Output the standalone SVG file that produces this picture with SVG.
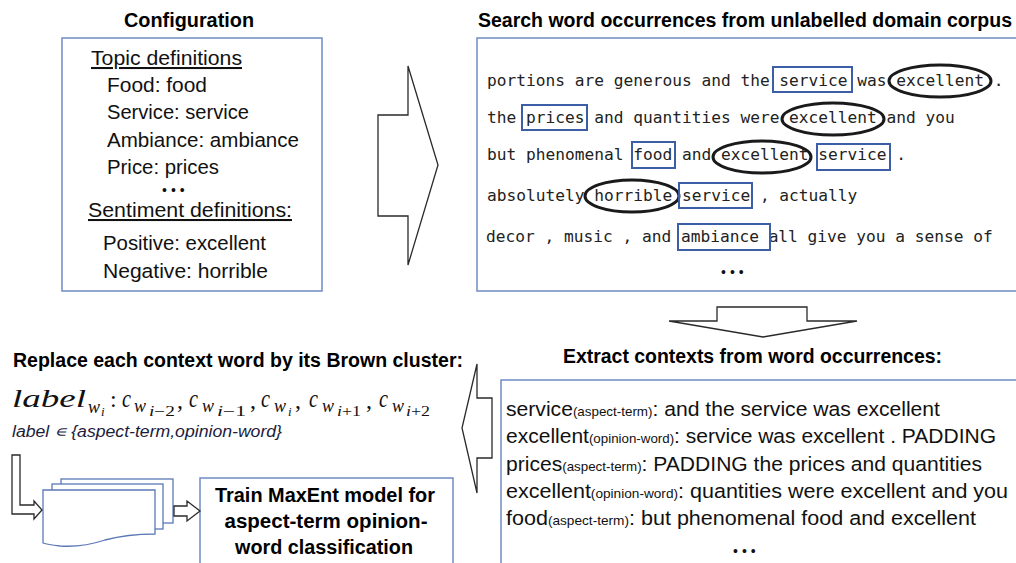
<svg xmlns="http://www.w3.org/2000/svg" width="1016" height="563" viewBox="0 0 1016 563">
<style>
.h{font-family:"Liberation Sans",Arial,sans-serif;font-weight:bold;font-size:19.5px;fill:#000}
.b{font-family:"Liberation Sans",Arial,sans-serif;font-size:20.5px;fill:#111}
.s{font-size:13px}
.m{font-family:"DejaVu Sans Mono",monospace;font-size:16.2px;fill:#222}
.dots{font-family:"Liberation Sans",Arial,sans-serif;font-size:14px;letter-spacing:4px;fill:#111}
.box{fill:#fff;stroke:#6f8bc2;stroke-width:1.5}
.wb{fill:none;stroke:#3c5ea6;stroke-width:2}
.el{fill:none;stroke:#1a1a1a;stroke-width:3}
.arr{fill:#fff;stroke:#2a2a2a;stroke-width:1.3;stroke-linejoin:miter}
.doc{fill:#fff;stroke:#5b78b6;stroke-width:1.3}
.mi{font-family:"Liberation Serif","Times New Roman",serif;font-style:italic;fill:#111}
.mu{font-family:"Liberation Serif","Times New Roman",serif;font-style:normal;fill:#111}
.it{font-family:"Liberation Sans",Arial,sans-serif;font-style:italic;font-size:16px;fill:#1c1c3c}
</style>

<g id="configuration">
<text class="h" x="124" y="27" textLength="130" lengthAdjust="spacingAndGlyphs">Configuration</text>
<rect class="box" x="62" y="38" width="260" height="253"/>
<text class="b" x="91" y="65" textLength="151" lengthAdjust="spacingAndGlyphs" text-decoration="underline">Topic definitions</text>
<text class="b" x="107" y="92" textLength="100" lengthAdjust="spacingAndGlyphs">Food: food</text>
<text class="b" x="107" y="119" textLength="142" lengthAdjust="spacingAndGlyphs">Service: service</text>
<text class="b" x="107" y="147" textLength="192" lengthAdjust="spacingAndGlyphs">Ambiance: ambiance</text>
<text class="b" x="107" y="174" textLength="112" lengthAdjust="spacingAndGlyphs">Price: prices</text>
<text class="dots" x="162" y="195">•••</text>
<text class="b" x="88" y="217" textLength="204" lengthAdjust="spacingAndGlyphs" text-decoration="underline">Sentiment definitions:</text>
<text class="b" x="103" y="250" textLength="163" lengthAdjust="spacingAndGlyphs">Positive: excellent</text>
<text class="b" x="103" y="278" textLength="165" lengthAdjust="spacingAndGlyphs">Negative: horrible</text>
</g>

<g id="search">
<text class="h" x="478" y="27" textLength="534" lengthAdjust="spacingAndGlyphs">Search word occurrences from unlabelled domain corpus</text>
<rect class="box" x="477" y="38" width="560" height="253"/>
<text class="m" x="487" y="86" xml:space="preserve">portions are generous and the service was excellent .</text>
<text class="m" x="487" y="123" xml:space="preserve">the prices and quantities were excellent and you</text>
<text class="m" x="487" y="160" xml:space="preserve">but phenomenal food and excellent service .</text>
<text class="m" x="487" y="201" xml:space="preserve">absolutely horrible service , actually</text>
<text class="m" x="486" y="242" xml:space="preserve">decor , music , and ambiance all give you a sense of</text>
<rect class="wb" x="773" y="67" width="79" height="25"/>
<ellipse class="el" cx="940" cy="81" rx="51" ry="16"/>
<rect class="wb" x="522" y="105" width="65" height="25"/>
<ellipse class="el" cx="833" cy="119" rx="51" ry="16"/>
<rect class="wb" x="632" y="142" width="43" height="26"/>
<ellipse class="el" cx="762" cy="157" rx="49" ry="16"/>
<rect class="wb" x="817" y="144" width="73" height="26"/>
<ellipse class="el" cx="632" cy="196" rx="47" ry="16"/>
<rect class="wb" x="679" y="183" width="73" height="25"/>
<rect class="wb" x="678" y="224" width="92" height="26"/>
<text class="dots" x="721" y="277">•••</text>
</g>

<g id="extract">
<text class="h" x="563" y="363" textLength="379" lengthAdjust="spacingAndGlyphs">Extract contexts from word occurrences:</text>
<rect class="box" x="501" y="380" width="540" height="200"/>
<text class="b" x="506" y="416" textLength="434" lengthAdjust="spacingAndGlyphs">service<tspan class="s">(aspect-term)</tspan>: and the service was excellent</text>
<text class="b" x="506" y="443" textLength="490" lengthAdjust="spacingAndGlyphs">excellent<tspan class="s">(opinion-word)</tspan>: service was excellent . PADDING</text>
<text class="b" x="506" y="471" textLength="476" lengthAdjust="spacingAndGlyphs">prices<tspan class="s">(aspect-term)</tspan>: PADDING the prices and quantities</text>
<text class="b" x="506" y="498" textLength="502" lengthAdjust="spacingAndGlyphs">excellent<tspan class="s">(opinion-word)</tspan>: quantities were excellent and you</text>
<text class="b" x="506" y="525" textLength="470" lengthAdjust="spacingAndGlyphs">food<tspan class="s">(aspect-term)</tspan>: but phenomenal food and excellent</text>
<text class="dots" x="733" y="556">•••</text>
</g>

<g id="replace">
<text class="h" x="13" y="367" textLength="450" lengthAdjust="spacingAndGlyphs">Replace each context word by its Brown cluster:</text>
<text class="mi" x="12" y="407" font-size="26" textLength="74" lengthAdjust="spacingAndGlyphs">label</text>
<text class="mi" x="88" y="413" font-size="18" textLength="12" lengthAdjust="spacingAndGlyphs">w</text>
<text class="mi" x="101" y="416" font-size="13">i</text>
<text class="mu" x="110" y="407" font-size="24">:</text>
<text class="mi" x="122" y="407" font-size="26" textLength="9" lengthAdjust="spacingAndGlyphs">c</text>
<text class="mi" x="134" y="412" font-size="18" textLength="12" lengthAdjust="spacingAndGlyphs">w</text>
<text class="mu" x="149" y="416" font-size="14" textLength="26" lengthAdjust="spacingAndGlyphs"><tspan class="mi">i</tspan>−2</text>
<text class="mu" x="177" y="408" font-size="24">,</text>
<text class="mi" x="189" y="407" font-size="26" textLength="9" lengthAdjust="spacingAndGlyphs">c</text>
<text class="mi" x="202" y="412" font-size="18" textLength="12" lengthAdjust="spacingAndGlyphs">w</text>
<text class="mu" x="217" y="416" font-size="14" textLength="29" lengthAdjust="spacingAndGlyphs"><tspan class="mi">i</tspan>−1</text>
<text class="mu" x="250" y="408" font-size="24">,</text>
<text class="mi" x="261" y="407" font-size="26" textLength="9" lengthAdjust="spacingAndGlyphs">c</text>
<text class="mi" x="274" y="412" font-size="18" textLength="12" lengthAdjust="spacingAndGlyphs">w</text>
<text class="mi" x="288" y="416" font-size="13">i</text>
<text class="mu" x="295" y="408" font-size="24">,</text>
<text class="mi" x="309" y="407" font-size="26" textLength="9" lengthAdjust="spacingAndGlyphs">c</text>
<text class="mi" x="322" y="412" font-size="18" textLength="12" lengthAdjust="spacingAndGlyphs">w</text>
<text class="mu" x="337" y="416" font-size="14" textLength="24" lengthAdjust="spacingAndGlyphs"><tspan class="mi">i</tspan>+1</text>
<text class="mu" x="366" y="408" font-size="24">,</text>
<text class="mi" x="379" y="407" font-size="26" textLength="9" lengthAdjust="spacingAndGlyphs">c</text>
<text class="mi" x="392" y="412" font-size="18" textLength="12" lengthAdjust="spacingAndGlyphs">w</text>
<text class="mu" x="406" y="416" font-size="14" textLength="24" lengthAdjust="spacingAndGlyphs"><tspan class="mi">i</tspan>+2</text>
<text class="it" x="12" y="437" textLength="270" lengthAdjust="spacingAndGlyphs">label ∊ {aspect-term,opinion-word}</text>
</g>

<g id="documents">
<rect class="doc" x="61" y="479" width="112" height="44"/>
<rect class="doc" x="52" y="484" width="111" height="45"/>
<path class="doc" d="M43,490 H155 V534 C135,534 120,536 105,540 C90,545 75,547 60,546 C52,545 46,544 43,543 Z"/>
</g>

<g id="train">
<rect class="box" x="200" y="478" width="253" height="100"/>
<text class="h" x="325" y="502" text-anchor="middle" textLength="220" lengthAdjust="spacingAndGlyphs">Train MaxEnt model for</text>
<text class="h" x="326" y="528" text-anchor="middle" textLength="203" lengthAdjust="spacingAndGlyphs">aspect-term opinion-</text>
<text class="h" x="324" y="554" text-anchor="middle" textLength="178" lengthAdjust="spacingAndGlyphs">word classification</text>
</g>

<g id="connectors">
<polygon class="arr" points="378,115 408,115 408,66 438,165 408,265 408,216 378,216"/>
<polygon class="arr" points="717,307 807,307 807,321 857,321 763,337 669,321 717,321"/>
<polygon class="arr" points="492,398 477,398 477,364 462,428 477,493 477,458 492,458"/>
<polygon class="arr" points="12,455 20,455 20,505 34,505 34,501 42,510 34,519 34,514 12,514"/>
<polygon class="arr" points="174,506 187,506 187,501 200,511 187,521 187,516 174,516"/>
</g>
</svg>
